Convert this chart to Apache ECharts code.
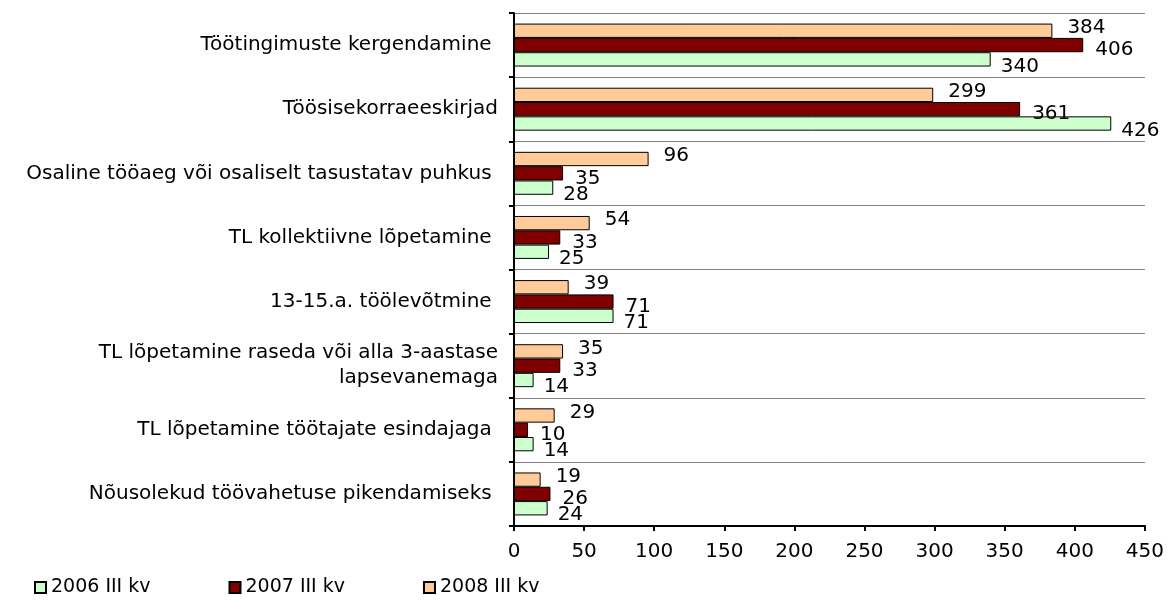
<!DOCTYPE html>
<html>
<head>
<meta charset="utf-8">
<script src="https://cdn.jsdelivr.net/npm/echarts@6/dist/echarts.min.js"></script>
<style>
  html, body { margin: 0; padding: 0; background: #fff; }
  #chart { width: 1167px; height: 605px; }
</style>
</head>
<body>
<div id="chart"></div>
<script>
const categories = [
  'Töötingimuste kergendamine ',
  'Töösisekorraeeskirjad',
  'Osaline tööaeg või osaliselt tasustatav puhkus ',
  'TL kollektiivne lõpetamine ',
  '13-15.a. töölevõtmine ',
  'TL lõpetamine raseda või alla 3-aastase\nlapsevanemaga',
  'TL lõpetamine töötajate esindajaga ',
  'Nõusolekud töövahetuse pikendamiseks '
]
const values2006 = [340, 426, 28, 25, 71, 14, 14, 24]
const values2007 = [406, 361, 35, 33, 71, 33, 10, 26]
const values2008 = [384, 299, 96, 54, 39, 35, 29, 19]
const xTicks = [0, 450, 50]  // min, max, interval

const font = 'DejaVu Sans, Verdana, sans-serif'

const chart = echarts.init(document.getElementById('chart'), null, { renderer: 'canvas' })

// first series ends up on top of each band (inverse axis), so 2008 goes first
const makeSeries = (name, data, color, labelDist, labelDy) => ({
  name,
  type: 'bar',
  data,
  barGap: '0%',
  barCategoryGap: '33%',
  itemStyle: { color, borderColor: '#000', borderWidth: 1 },
  label: {
    show: true,
    position: 'right',
    distance: labelDist,
    offset: [0, labelDy],
    color: '#000',
    fontFamily: font,
    fontSize: 20
  }
})

const option = {
  animation: false,
  textStyle: { fontFamily: font },
  grid: { left: 514, right: 21, top: 13, bottom: 79 },
  legend: {
    data: ['2006 III kv', '2007 III kv', '2008 III kv'],
    left: 34,
    top: 578,
    padding: 0,
    icon: 'rect',
    itemWidth: 11,
    itemHeight: 11,
    itemGap: 78,
    textStyle: { fontFamily: font, fontSize: 19, color: '#000' }
  },
  xAxis: {
    type: 'value',
    min: xTicks[0],
    max: xTicks[1],
    interval: xTicks[2],
    axisLine: { show: true, lineStyle: { color: '#000', width: 2 } },
    axisTick: { show: true, length: 5, lineStyle: { color: '#000', width: 2 } },
    axisLabel: { color: '#000', fontFamily: font, fontSize: 20, margin: 16 },
    splitLine: { show: false }
  },
  yAxis: {
    type: 'category',
    data: categories,
    inverse: true,
    axisLine: { show: true, lineStyle: { color: '#000', width: 2 } },
    axisTick: { show: true, length: 5, lineStyle: { color: '#000', width: 2 } },
    axisLabel: { color: '#000', fontFamily: font, fontSize: 20, margin: 16, lineHeight: 25 },
    splitLine: { show: true, lineStyle: { color: '#808080', width: 1 } }
  },
  series: [
    makeSeries('2008 III kv', values2008, '#FFCC99', 15, -3),
    makeSeries('2007 III kv', values2007, '#800000', 12, 5),
    makeSeries('2006 III kv', values2006, '#CCFFCC', 10, 7)
  ]
}

chart.setOption(option)
</script>
</body>
</html>
